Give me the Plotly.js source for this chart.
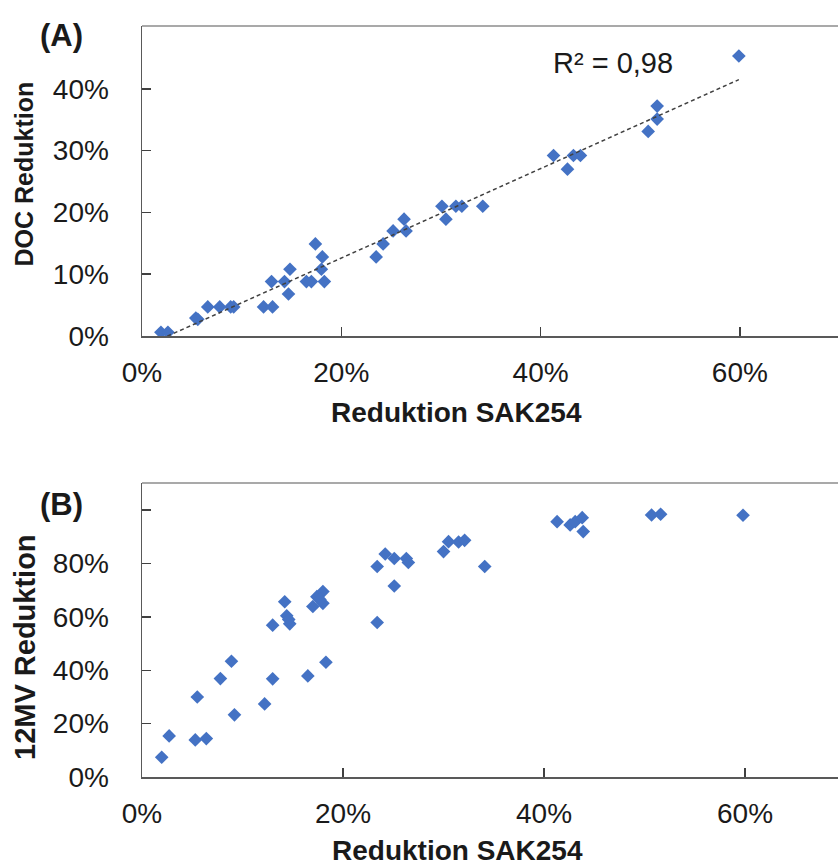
<!DOCTYPE html>
<html>
<head>
<meta charset="utf-8">
<script src="https://cdn.plot.ly/plotly-3.0.1.min.js"></script>
<style>html,body{margin:0;padding:0;background:#fff;}#chart{width:838px;height:867px;}</style>
</head>
<body>
<div id="chart"></div>
<script>
// Panel A: SAK254 reduction vs DOC reduction
const sakA = [0.019,0.026,0.054,0.056,0.066,0.078,0.089,0.092,0.122,0.131,0.130,0.143,0.147,0.1485,0.165,0.170,0.174,0.181,0.180,0.183,0.235,0.242,0.252,0.263,0.265,0.301,0.305,0.315,0.321,0.342,0.413,0.427,0.433,0.440,0.508,0.517,0.517,0.599];
const docA = [0.006,0.006,0.029,0.027,0.047,0.047,0.047,0.047,0.047,0.047,0.088,0.088,0.068,0.108,0.088,0.088,0.149,0.128,0.108,0.088,0.128,0.149,0.170,0.189,0.170,0.210,0.189,0.210,0.210,0.210,0.292,0.270,0.292,0.292,0.331,0.351,0.372,0.453];
// Panel B: SAK254 reduction vs 12MV reduction
const sakB = [0.0196,0.027,0.053,0.055,0.064,0.078,0.089,0.092,0.122,0.130,0.130,0.142,0.144,0.147,0.146,0.165,0.170,0.174,0.180,0.180,0.177,0.183,0.234,0.234,0.242,0.251,0.251,0.263,0.265,0.300,0.305,0.315,0.321,0.341,0.413,0.426,0.431,0.438,0.439,0.507,0.516,0.598];
const mvB = [0.074,0.154,0.139,0.300,0.144,0.369,0.434,0.233,0.274,0.368,0.569,0.657,0.604,0.574,0.590,0.379,0.639,0.676,0.695,0.651,0.665,0.430,0.579,0.789,0.836,0.716,0.819,0.819,0.804,0.845,0.882,0.881,0.887,0.789,0.957,0.945,0.957,0.972,0.920,0.982,0.985,0.981];

const r2Text = 'R² = 0,98';
const xTitle = 'Reduktion SAK254';
const yTitleA = 'DOC Reduktion';
const yTitleB = '12MV Reduktion';
const xTicks = [0,0.2,0.4,0.6];
const yTicksA = [0,0.1,0.2,0.3,0.4];
const yTicksB = [0,0.2,0.4,0.6,0.8,1.0];
const yTickTextB = ['0%','20%','40%','60%','80%',''];

// least-squares linear trendline for panel A
function linfit(xs, ys){
  const n = xs.length;
  let sx=0, sy=0, sxx=0, sxy=0;
  for(let i=0;i<n;i++){sx+=xs[i];sy+=ys[i];sxx+=xs[i]*xs[i];sxy+=xs[i]*ys[i];}
  const b = (n*sxy - sx*sy)/(n*sxx - sx*sx);
  const a = (sy - b*sx)/n;
  return {a,b};
}
const fit = linfit(sakA, docA);
const xmin = Math.min(...sakA), xmax = Math.max(...sakA);
const trendX = [xmin, xmax];
const trendY = trendX.map(v => fit.a + fit.b*v);

const W = 838, H = 867;
const px = v => v/W;
const py = v => 1 - v/H;
const FONT = 'Liberation Sans, Arial, sans-serif';
const BLUE = '#4472C4';

const markerStyle = {symbol:'diamond', size:10.5, color:BLUE};

const traces = [
  {x:sakA, y:docA, type:'scatter', mode:'markers', marker:markerStyle, xaxis:'x', yaxis:'y', showlegend:false, hoverinfo:'x+y'},
  {x:trendX, y:trendY, type:'scatter', mode:'lines', line:{color:'#404040', width:1.5, dash:'4px,3px'}, xaxis:'x', yaxis:'y', showlegend:false},
  {x:sakB, y:mvB, type:'scatter', mode:'markers', marker:markerStyle, xaxis:'x2', yaxis:'y2', showlegend:false, hoverinfo:'x+y'}
];

const axBase = {
  showgrid:false, zeroline:false, showline:true, linecolor:'#595959', linewidth:1.5,
  ticks:'inside', ticklen:9, tickwidth:1.5, tickcolor:'#404040',
  tickfont:{family:FONT, size:28, color:'#1a1a1a'}, tickformat:'.0%', fixedrange:true
};

const layout = {
  width:W, height:H,
  margin:{l:0, r:0, t:0, b:0},
  paper_bgcolor:'#fff', plot_bgcolor:'#fff',
  showlegend:false,
  xaxis: Object.assign({}, axBase, {domain:[px(142),1], range:[0,0.6985], tickvals:xTicks, anchor:'y', ticklabelstandoff:11}),
  yaxis: Object.assign({}, axBase, {domain:[py(336),py(26)], range:[0,0.5016], tickvals:yTicksA, anchor:'x', ticklabelstandoff:26}),
  xaxis2: Object.assign({}, axBase, {domain:[px(142),1], range:[0,0.6925], tickvals:xTicks, anchor:'y2', ticklabelstandoff:11}),
  yaxis2: Object.assign({}, axBase, {domain:[py(777),py(483)], range:[0,1.102], tickvals:yTicksB, ticktext:yTickTextB, tickmode:'array', anchor:'x2', ticklabelstandoff:26}),
  shapes:[
    {type:'line', xref:'x domain', yref:'y domain', x0:0, x1:1, y0:1, y1:1, line:{color:'#8c8c8c', width:1.5}},
    {type:'line', xref:'x2 domain', yref:'y2 domain', x0:0, x1:1, y0:1, y1:1, line:{color:'#8c8c8c', width:1.5}}
  ],
  annotations:[
    {text:'<b>(A)</b>', xref:'paper', yref:'paper', x:px(62), y:py(35), xanchor:'center', yanchor:'middle', showarrow:false, font:{family:FONT, size:31, color:'#1a1a1a'}},
    {text:'<b>(B)</b>', xref:'paper', yref:'paper', x:px(62), y:py(504), xanchor:'center', yanchor:'middle', showarrow:false, font:{family:FONT, size:31, color:'#1a1a1a'}},
    {text:r2Text, xref:'paper', yref:'paper', x:px(613), y:py(63), xanchor:'center', yanchor:'middle', showarrow:false, font:{family:FONT, size:29, color:'#1a1a1a'}},
    {text:'<b>'+xTitle+'</b>', xref:'paper', yref:'paper', x:px(456), y:py(412), xanchor:'center', yanchor:'middle', showarrow:false, font:{family:FONT, size:28, color:'#1a1a1a'}},
    {text:'<b>'+xTitle+'</b>', xref:'paper', yref:'paper', x:px(457), y:py(850), xanchor:'center', yanchor:'middle', showarrow:false, font:{family:FONT, size:28, color:'#1a1a1a'}},
    {text:'<b>'+yTitleA+'</b>', xref:'paper', yref:'paper', x:px(23.5), y:py(174), xanchor:'center', yanchor:'middle', textangle:-90, showarrow:false, font:{family:FONT, size:25, color:'#1a1a1a'}},
    {text:'<b>'+yTitleB+'</b>', xref:'paper', yref:'paper', x:px(25), y:py(647), xanchor:'center', yanchor:'middle', textangle:-90, showarrow:false, font:{family:FONT, size:29, color:'#1a1a1a'}}
  ]
};

Plotly.newPlot('chart', traces, layout, {staticPlot:true, displayModeBar:false});
</script>
</body>
</html>
